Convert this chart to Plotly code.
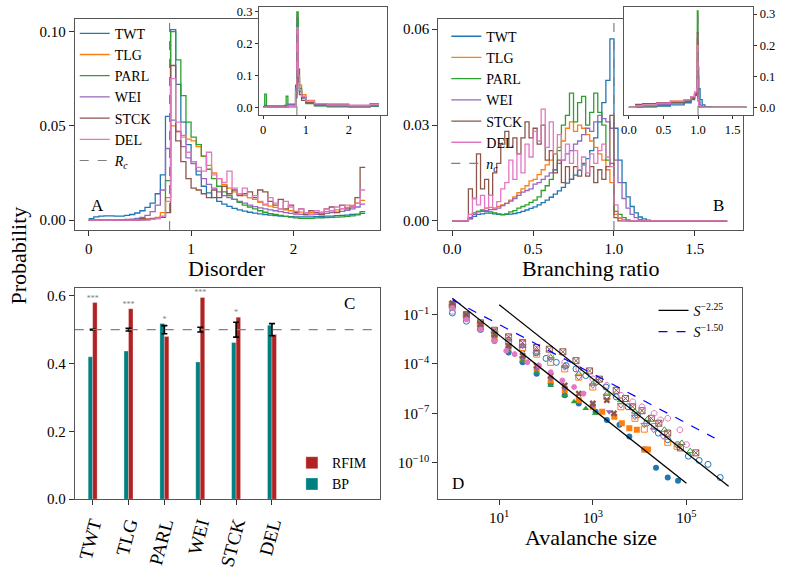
import numpy as np
import plotly.graph_objects as go

W, H = 785, 578
names = ["TWT", "TLG", "PARL", "WEI", "STCK", "DEL"]
colors = ["#1f77b4", "#ff7f0e", "#2ca02c", "#9467bd", "#8c564b", "#e377c2"]
FONT = "Liberation Serif"

# ---------------- Panel A: disorder histograms (bin width 0.05, 0 .. 2.7)
disorder_step = 0.05
disorder_twt = [0.0008, 0.0018, 0.0022, 0.0023, 0.0023, 0.0022, 0.0022, 0.0025, 0.003, 0.0038,
                0.005, 0.0068, 0.009, 0.014, 0.024, 0.055, 0.101, 0.072, 0.052, 0.040,
                0.031, 0.024, 0.018, 0.0145, 0.012, 0.010, 0.0085, 0.0073, 0.0063, 0.0055,
                0.0048, 0.0042, 0.0037, 0.0033, 0.003, 0.0027, 0.0024, 0.0022, 0.002, 0.0019,
                0.0018, 0.0018, 0.0018, 0.0018, 0.0019, 0.002, 0.0021, 0.0022, 0.0024, 0.0025,
                0.0027, 0.003, 0.0032, 0.0036]
disorder_tlg = [0, 0, 0, 0, 0, 0, 0, 0, 0, 0,
                0.0003, 0.0005, 0.0008, 0.0015, 0.004, 0.012, 0.050, 0.047, 0.045, 0.043,
                0.042, 0.039, 0.034, 0.029, 0.025, 0.022, 0.019, 0.017, 0.015, 0.014,
                0.013, 0.012, 0.011, 0.0095, 0.0085, 0.0075, 0.0068, 0.006, 0.0055, 0.005,
                0.0046, 0.0043, 0.004, 0.004, 0.004, 0.0042, 0.0045, 0.005, 0.0055, 0.006,
                0.0068, 0.0078, 0.009, 0.0105]
disorder_parl = [0, 0, 0, 0, 0, 0, 0, 0, 0, 0,
                 0, 0.0003, 0.0005, 0.001, 0.002, 0.021, 0.100, 0.085, 0.066, 0.052,
                 0.044, 0.040, 0.034, 0.027, 0.022, 0.018, 0.015, 0.013, 0.011, 0.0095,
                 0.008, 0.007, 0.006, 0.005, 0.0042, 0.0035, 0.003, 0.0025, 0.002, 0.0016,
                 0.0012, 0.001, 0.001, 0.001, 0.0012, 0.0013, 0.0014, 0.0015, 0.0016, 0.0018,
                 0.002, 0.0023, 0.0028, 0.0045]
disorder_wei = [0, 0, 0, 0, 0, 0, 0.0002, 0.0004, 0.0006, 0.001,
                0.0015, 0.0025, 0.0045, 0.008, 0.016, 0.038, 0.053, 0.047, 0.039, 0.033,
                0.030, 0.026, 0.022, 0.019, 0.017, 0.015, 0.013, 0.012, 0.011, 0.010,
                0.009, 0.008, 0.0072, 0.0065, 0.006, 0.0055, 0.005, 0.0045, 0.004, 0.0036,
                0.0033, 0.0031, 0.003, 0.003, 0.0031, 0.0033, 0.0036, 0.004, 0.0043, 0.0047,
                0.0052, 0.006, 0.007, 0.0085]
disorder_stck = [0, 0, 0, 0, 0, 0, 0, 0, 0, 0,
                 0.0008, 0.0005, 0.001, 0.0008, 0.0015, 0.004, 0.082, 0.042, 0.031, 0.022,
                 0.017, 0.016, 0.014, 0.012, 0.016, 0.012, 0.018, 0.014, 0.016, 0.013,
                 0.014, 0.015, 0.012, 0.016, 0.015, 0.010, 0.008, 0.011, 0.006, 0.008,
                 0.004, 0.006, 0.003, 0.005, 0.004, 0.003, 0.006, 0.007, 0.004, 0.008,
                 0.006, 0.007, 0.012, 0.028]
disorder_del = [0, 0, 0, 0, 0, 0, 0, 0, 0, 0,
                0, 0, 0.0005, 0.001, 0.002, 0.010, 0.075, 0.052, 0.044, 0.036,
                0.031, 0.028, 0.026, 0.036, 0.024, 0.022, 0.020, 0.026, 0.017, 0.014,
                0.017, 0.012, 0.013, 0.010, 0.008, 0.012, 0.009, 0.006, 0.010, 0.007,
                0.003, 0.006, 0.004, 0.003, 0.005, 0.004, 0.006, 0.005, 0.007, 0.006,
                0.008, 0.007, 0.009, 0.016]
R_c = 0.79

# inset A (non-uniform bins)
inset_a_edges = [0, 0.04, 0.08, 0.5, 0.54, 0.58, 0.76, 0.79, 0.82, 0.85, 0.9, 1.0, 1.2, 1.5, 2.0, 2.5, 2.7]
inset_a_twt = [0.003, 0.006, 0.005, 0.006, 0.006, 0.010, 0.07, 0.28, 0.10, 0.05, 0.03, 0.015, 0.006, 0.003, 0.002, 0.003]
inset_a_tlg = [0.0, 0.0, 0.001, 0.001, 0.001, 0.003, 0.04, 0.20, 0.12, 0.07, 0.04, 0.022, 0.012, 0.006, 0.005, 0.008]
inset_a_parl = [0.002, 0.042, 0.002, 0.001, 0.035, 0.003, 0.05, 0.30, 0.12, 0.06, 0.03, 0.012, 0.005, 0.002, 0.002, 0.004]
inset_a_wei = [0.001, 0.002, 0.002, 0.003, 0.004, 0.008, 0.06, 0.22, 0.09, 0.05, 0.03, 0.016, 0.009, 0.005, 0.004, 0.006]
inset_a_stck = [0.0, 0.0, 0.001, 0.001, 0.001, 0.002, 0.03, 0.24, 0.08, 0.04, 0.022, 0.015, 0.012, 0.010, 0.006, 0.012]
inset_a_del = [0.0, 0.0, 0.001, 0.001, 0.001, 0.003, 0.05, 0.25, 0.10, 0.055, 0.035, 0.020, 0.012, 0.008, 0.006, 0.010]

# ---------------- Panel B: branching ratio histograms (bin width 0.025, 0 .. 1.25, then zero to 1.7)
branch_step = 0.025
branch_max = 1.7
branch_twt = [0, 0, 0, 0, 0.0006, 0.0014, 0.002, 0.0022, 0.0024, 0.0024,
              0.0022, 0.002, 0.0019, 0.002, 0.0021, 0.0023, 0.0026, 0.003, 0.0034, 0.0039,
              0.0044, 0.005, 0.0057, 0.0065, 0.0074, 0.0084, 0.0094, 0.0105, 0.0118, 0.013,
              0.0143, 0.0158, 0.0175, 0.0195, 0.022, 0.026, 0.031, 0.037, 0.044, 0.057,
              0.029, 0.019, 0.012, 0.0075, 0.0045, 0.0025, 0.0012, 0.0006, 0.0002, 0]
branch_tlg = [0, 0, 0, 0, 0.0008, 0.002, 0.003, 0.0035, 0.004, 0.0042,
              0.004, 0.0045, 0.005, 0.0055, 0.0065, 0.0075, 0.0088, 0.010, 0.011, 0.0125,
              0.013, 0.0145, 0.016, 0.0175, 0.019, 0.021, 0.023, 0.025, 0.029, 0.031,
              0.028, 0.030, 0.029, 0.027, 0.025, 0.023, 0.021, 0.019, 0.016, 0.012,
              0.002, 0.0008, 0.0003, 0, 0, 0, 0, 0, 0, 0]
branch_parl = [0, 0, 0, 0, 0.001, 0.0025, 0.003, 0.0032, 0.003, 0.0028,
               0.0025, 0.0022, 0.002, 0.0022, 0.0028, 0.0032, 0.004, 0.0045, 0.005, 0.0058,
               0.0065, 0.0075, 0.0095, 0.011, 0.013, 0.016, 0.022, 0.030, 0.033, 0.040,
               0.031, 0.037, 0.039, 0.030, 0.034, 0.040, 0.034, 0.030, 0.019, 0.018,
               0.003, 0.002, 0.001, 0.0003, 0, 0, 0, 0, 0, 0]
branch_wei = [0, 0, 0, 0, 0.0008, 0.002, 0.0028, 0.003, 0.0032, 0.0035,
              0.0035, 0.004, 0.0048, 0.0055, 0.0062, 0.007, 0.008, 0.009, 0.0095, 0.010,
              0.0115, 0.012, 0.013, 0.014, 0.015, 0.016, 0.018, 0.019, 0.021, 0.022,
              0.024, 0.025, 0.027, 0.029, 0.028, 0.031, 0.033, 0.032, 0.031, 0.029,
              0.019, 0.012, 0.007, 0.004, 0.002, 0.001, 0.0004, 0, 0, 0]
branch_stck = [0, 0, 0, 0, 0.010, 0.007, 0.021, 0.010, 0.013, 0.008,
               0.015, 0.018, 0.024, 0.028, 0.023, 0.026, 0.021, 0.026, 0.031, 0.026,
               0.029, 0.024, 0.030, 0.019, 0.022, 0.015, 0.019, 0.012, 0.017, 0.013,
               0.017, 0.014, 0.018, 0.014, 0.017, 0.012, 0.016, 0.013, 0.017, 0.033,
               0.001, 0, 0, 0, 0, 0, 0, 0, 0, 0]
branch_del = [0, 0, 0, 0, 0.002, 0.007, 0.005, 0.008, 0.004, 0.008,
              0.004, 0.006, 0.010, 0.012, 0.019, 0.013, 0.021, 0.015, 0.024, 0.020,
              0.028, 0.025, 0.035, 0.023, 0.031, 0.021, 0.027, 0.019, 0.024, 0.018,
              0.022, 0.016, 0.020, 0.015, 0.021, 0.018, 0.022, 0.024, 0.020, 0.017,
              0.005, 0.001, 0, 0, 0, 0, 0, 0, 0, 0]
n_c = 1.0

inset_b_edges = [0, 0.1, 0.2, 0.4, 0.6, 0.8, 0.9, 0.95, 0.98, 0.99, 1.0, 1.01, 1.03, 1.06, 1.1, 1.2, 1.7]
inset_b_twt = [0, 0.001, 0.002, 0.004, 0.008, 0.015, 0.025, 0.04, 0.06, 0.10, 0.13, 0.06, 0.025, 0.008, 0.002, 0]
inset_b_tlg = [0, 0.004, 0.007, 0.012, 0.02, 0.025, 0.035, 0.045, 0.05, 0.22, 0.03, 0.005, 0.001, 0, 0, 0]
inset_b_parl = [0, 0.003, 0.003, 0.006, 0.015, 0.02, 0.03, 0.04, 0.06, 0.31, 0.10, 0.01, 0.002, 0, 0, 0]
inset_b_wei = [0, 0.003, 0.005, 0.01, 0.016, 0.025, 0.035, 0.045, 0.055, 0.15, 0.06, 0.02, 0.006, 0.002, 0, 0]
inset_b_stck = [0, 0.01, 0.012, 0.015, 0.015, 0.02, 0.03, 0.04, 0.05, 0.24, 0.02, 0.003, 0, 0, 0, 0]
inset_b_del = [0, 0.005, 0.008, 0.014, 0.02, 0.025, 0.035, 0.05, 0.06, 0.20, 0.04, 0.006, 0.001, 0, 0, 0]

# ---------------- Panel C: bars
bp_values = [0.420, 0.437, 0.518, 0.405, 0.462, 0.513]
rfim_values = [0.580, 0.562, 0.480, 0.595, 0.537, 0.486]
null_mean = [0.5, 0.5, 0.5, 0.5, 0.5, 0.5]
null_err = [0.001, 0.004, 0.012, 0.007, 0.022, 0.018]
significance = ["***", "***", "*", "***", "*", ""]

# ---------------- Panel D: avalanche size distributions (log10 S, log10 P)
aval_twt_filled = [(0, -0.5), (0.3, -1.2), (0.6, -1.9), (0.9, -2.6), (1.2, -3.3), (1.5, -3.9), (1.8, -4.6),
                   (2.1, -5.2), (2.4, -5.9), (2.7, -6.4), (3.06, -6.9), (3.3, -7.4), (3.57, -7.7),
                   (3.78, -8.4), (4.1, -9.2), (4.35, -10.3), (4.6, -10.9), (4.82, -11.1)]
aval_tlg_filled = [(0, -0.4), (0.3, -1.1), (0.6, -1.7), (0.9, -2.4), (1.2, -3.0), (1.5, -3.7), (1.8, -4.3),
                   (2.1, -5.0), (2.4, -5.6), (2.7, -6.2), (3.0, -6.6), (3.2, -6.9), (3.46, -7.2),
                   (3.62, -7.6), (3.78, -7.9), (3.94, -8.0), (4.1, -9.2), (4.18, -9.2)]
aval_parl_filled = [(0, -0.45), (0.3, -1.15), (0.6, -1.8), (0.9, -2.5), (1.2, -3.2), (1.5, -3.8), (1.8, -4.5),
                    (2.1, -5.3), (2.4, -5.9), (2.6, -6.3), (2.85, -6.7), (3.05, -7.0)]
aval_wei_filled = [(0, -0.35), (0.3, -1.05), (0.6, -1.7), (0.9, -2.35), (1.2, -3.0), (1.5, -3.6), (1.8, -4.3),
                   (2.1, -4.9), (2.4, -5.5), (2.79, -5.8), (3.0, -6.5), (3.35, -6.9)]
aval_stck_filled = [(0, -0.3), (0.3, -1.0), (0.6, -1.6), (0.9, -2.2), (1.2, -2.9), (1.5, -3.5), (1.8, -4.1),
                    (2.1, -4.7), (2.4, -5.3), (2.7, -5.8), (3.0, -6.4), (3.3, -6.2), (3.45, -7.0)]
aval_del_filled = [(0, -0.6), (0.3, -1.3), (0.6, -1.9), (0.9, -2.6), (1.15, -3.2), (1.33, -3.4), (1.6, -3.9),
                   (1.85, -4.1), (2.1, -4.5), (2.35, -5.0), (2.6, -5.4), (2.8, -5.8)]
aval_twt_open = [(0, -0.9), (0.3, -1.4), (0.6, -1.9), (0.9, -2.3), (1.2, -2.7), (1.5, -3.1), (1.79, -3.32),
                 (2.0, -3.66), (2.22, -3.9), (2.43, -4.1), (2.64, -4.3), (2.85, -4.7), (3.07, -5.1),
                 (3.28, -5.4), (3.5, -6.0), (3.75, -6.6), (3.95, -7.1), (4.15, -7.6), (4.4, -8.2),
                 (4.6, -8.6), (4.81, -8.9), (5.04, -9.6), (5.27, -9.86), (5.46, -10.1), (5.72, -10.9)]
aval_tlg_open = [(0, -0.5), (0.3, -1.1), (0.6, -1.6), (0.9, -2.1), (1.2, -2.6), (1.5, -3.0), (1.8, -3.4),
                 (2.1, -3.9), (2.4, -4.3), (2.7, -4.8), (3.0, -5.4), (3.3, -6.0), (3.6, -6.6), (3.9, -7.3),
                 (4.1, -7.96), (4.32, -7.8), (4.6, -8.76), (4.8, -9.0)]
aval_parl_open = [(0, -0.45), (0.3, -1.05), (0.6, -1.55), (0.9, -2.0), (1.2, -2.5), (1.5, -2.9), (1.8, -3.3),
                  (2.1, -3.6), (2.4, -4.1), (2.7, -4.6), (3.0, -5.2), (3.3, -5.8), (3.6, -6.2), (3.9, -6.9),
                  (4.17, -7.35), (4.53, -8.0), (4.9, -8.8), (5.08, -9.3)]
aval_wei_open = [(0, -0.5), (0.3, -1.1), (0.6, -1.6), (0.9, -2.1), (1.2, -2.5), (1.5, -2.9), (1.8, -3.3),
                 (2.1, -3.7), (2.4, -4.2), (2.7, -4.8), (3.0, -5.3), (3.3, -6.0), (3.6, -6.5), (3.9, -7.2),
                 (4.1, -7.7), (4.3, -8.0), (4.5, -8.4)]
aval_stck_open = [(0, -0.4), (0.3, -1.0), (0.6, -1.5), (0.9, -1.95), (1.2, -2.35), (1.5, -2.7), (1.8, -3.0),
                  (2.07, -3.1), (2.36, -3.26), (2.64, -3.8), (2.93, -4.42), (3.14, -4.92), (3.5, -5.6),
                  (3.7, -6.1), (3.85, -6.6), (4.05, -6.84), (4.25, -7.3), (4.41, -7.6), (4.6, -8.2),
                  (4.87, -9.1), (5.2, -9.4)]
aval_del_open = [(0, -0.8), (0.3, -1.2), (0.6, -1.6), (0.9, -2.0), (1.2, -2.4), (1.5, -2.75), (1.8, -3.1),
                 (2.1, -3.5), (2.4, -3.9), (2.7, -4.3), (3.0, -4.9), (3.3, -5.3), (3.6, -5.9), (3.85, -6.3),
                 (4.05, -6.6), (4.31, -7.0), (4.45, -7.4), (4.6, -7.3), (4.86, -8.0), (5.0, -8.9)]

# power-law guides: (exponent, log10 prefactor, log10 S start, log10 S end)
fit_steep_low = (-2.25, 0.0, 0.0, 5.0)
fit_steep_high = (-2.25, 1.85, 1.0, 5.9)
fit_shallow = (-1.50, -0.1, 0.0, 5.6)

# ---------------- figure
def px_x(p):
    return p / W

def px_y(p):
    return 1 - p / H

fig = go.Figure()

def step_trace(edges, vals, color, name, xa, ya, legend, showlegend):
    ys = list(vals) + [vals[-1]]
    return go.Scatter(x=list(edges), y=ys, mode="lines", line=dict(color=color, width=1.3, shape="hv"),
                      name=name, xaxis=xa, yaxis=ya, legend=legend, showlegend=showlegend,
                      hoverinfo="skip")

disorder_edges = np.round(np.arange(len(disorder_twt) + 1) * disorder_step, 4)
disorder_sets = [disorder_twt, disorder_tlg, disorder_parl, disorder_wei, disorder_stck, disorder_del]
for nm, col, vals in zip(names, colors, disorder_sets):
    fig.add_trace(step_trace(disorder_edges, vals, col, nm, "x", "y", "legend", True))

A_YR = [-0.0052, 0.1068]
fig.add_trace(go.Scatter(x=[R_c, R_c], y=A_YR, mode="lines", line=dict(color="#7f7f7f", width=1.2, dash="dash"),
                         name="<i>R<sub>c</sub></i>", xaxis="x", yaxis="y", legend="legend"))

branch_edges = list(np.round(np.arange(len(branch_twt) + 1) * branch_step, 4)) + [branch_max]
branch_sets = [branch_twt, branch_tlg, branch_parl, branch_wei, branch_stck, branch_del]
for nm, col, vals in zip(names, colors, branch_sets):
    fig.add_trace(step_trace(branch_edges, list(vals) + [0.0], col, nm, "x2", "y2", "legend2", True))
B_YR = [-0.00286, 0.0633]
fig.add_trace(go.Scatter(x=[n_c, n_c], y=B_YR, mode="lines", line=dict(color="#7f7f7f", width=1.2, dash="dash"),
                         name="<i>n<sub>c</sub></i>", xaxis="x2", yaxis="y2", legend="legend2"))

# Panel C
xc = np.arange(len(names))
bar_w = 0.125
fig.add_trace(go.Bar(x=xc, y=bp_values, width=bar_w, offset=-bar_w, marker=dict(color="#008080",
                     line=dict(color="rgba(255,255,255,0.5)", width=0.6)), name="BP",
                     xaxis="x3", yaxis="y3", legend="legend3", legendrank=2))
fig.add_trace(go.Bar(x=xc, y=rfim_values, width=bar_w, offset=0, marker=dict(color="#b22222",
                     line=dict(color="rgba(255,255,255,0.5)", width=0.6)), name="RFIM",
                     xaxis="x3", yaxis="y3", legend="legend3", legendrank=1))
fig.add_trace(go.Scatter(x=xc, y=null_mean, mode="markers", marker=dict(size=1, color="black"),
                         error_y=dict(type="data", array=null_err, color="black", thickness=1.6, width=3),
                         xaxis="x3", yaxis="y3", showlegend=False, hoverinfo="skip"))
star_y = [max(a, b) for a, b in zip(bp_values, rfim_values)]
fig.add_trace(go.Scatter(x=xc, y=star_y, mode="text", text=significance, textposition="top center",
                         textfont=dict(size=8, color="#808080"), xaxis="x3", yaxis="y3",
                         showlegend=False, hoverinfo="skip"))

# Panel D
filled_sets = [aval_twt_filled, aval_tlg_filled, aval_parl_filled, aval_wei_filled, aval_stck_filled, aval_del_filled]
open_sets = [aval_twt_open, aval_tlg_open, aval_parl_open, aval_wei_open, aval_stck_open, aval_del_open]
filled_sym = ["circle", "square", "triangle-up", "triangle-down", "x", "octagon"]
open_sym = ["circle-open", "square-open", "triangle-up-open", "triangle-down-open", "square-x-open", "octagon-open"]
for col, pts, sym in zip(colors, open_sets, open_sym):
    s = [10 ** a for a, b in pts]
    p = [10 ** b for a, b in pts]
    fig.add_trace(go.Scatter(x=s, y=p, mode="markers", marker=dict(symbol=sym, size=6, color=col, line=dict(width=1, color=col)),
                             xaxis="x4", yaxis="y4", showlegend=False, hoverinfo="skip"))
for col, pts, sym in zip(colors, filled_sets, filled_sym):
    s = [10 ** a for a, b in pts]
    p = [10 ** b for a, b in pts]
    fig.add_trace(go.Scatter(x=s, y=p, mode="markers", marker=dict(symbol=sym, size=6, color=col, line=dict(width=0)),
                             xaxis="x4", yaxis="y4", showlegend=False, hoverinfo="skip"))

def fit_line(params):
    expo, logc, s0, s1 = params
    s = [10 ** s0, 10 ** s1]
    return s, [10 ** (logc + expo * s0), 10 ** (logc + expo * s1)]

s, p = fit_line(fit_steep_low)
fig.add_trace(go.Scatter(x=s, y=p, mode="lines", line=dict(color="black", width=1.3),
                         name="<i>S</i><sup>−2.25</sup>", xaxis="x4", yaxis="y4", legend="legend4"))
s, p = fit_line(fit_steep_high)
fig.add_trace(go.Scatter(x=s, y=p, mode="lines", line=dict(color="black", width=1.3),
                         showlegend=False, xaxis="x4", yaxis="y4"))
s, p = fit_line(fit_shallow)
fig.add_trace(go.Scatter(x=s, y=p, mode="lines", line=dict(color="blue", width=1.2, dash="dash"),
                         name="<i>S</i><sup>−1.50</sup>", xaxis="x4", yaxis="y4", legend="legend4"))

# insets
for nm, col, vals in zip(names, colors, [inset_a_twt, inset_a_tlg, inset_a_parl, inset_a_wei, inset_a_stck, inset_a_del]):
    fig.add_trace(step_trace(inset_a_edges, vals, col, nm, "x5", "y5", "legend", False))
IA_YR = [-0.0238, 0.3154]
fig.add_trace(go.Scatter(x=[R_c, R_c], y=IA_YR, mode="lines", line=dict(color="#7f7f7f", width=1.1, dash="dash"),
                         xaxis="x5", yaxis="y5", showlegend=False))
for nm, col, vals in zip(names, colors, [inset_b_twt, inset_b_tlg, inset_b_parl, inset_b_wei, inset_b_stck, inset_b_del]):
    fig.add_trace(step_trace(inset_b_edges, vals, col, nm, "x6", "y6", "legend", False))
IB_YR = [-0.0243, 0.323]
fig.add_trace(go.Scatter(x=[n_c, n_c], y=IB_YR, mode="lines", line=dict(color="#7f7f7f", width=1.1, dash="dash"),
                         xaxis="x6", yaxis="y6", showlegend=False))

frame = dict(showline=True, mirror=True, linecolor="#555555", linewidth=1.1, showgrid=False, zeroline=False,
             ticks="outside", ticklen=5, tickwidth=1, tickcolor="#333333", tickfont=dict(size=15, family=FONT))
iframe = dict(frame, ticklen=3, tickfont=dict(size=12.5, family=FONT))
leg = dict(xanchor="left", yanchor="top", bgcolor="rgba(0,0,0,0)", font=dict(size=14, family=FONT),
           tracegroupgap=0, itemwidth=30)

fig.update_layout(
    width=W, height=H, autosize=False, margin=dict(l=0, r=0, t=0, b=0),
    paper_bgcolor="white", plot_bgcolor="white", font=dict(family=FONT, color="black"),
    barmode="overlay",
    xaxis=dict(frame, domain=[px_x(72), px_x(378)], range=[-0.136, 2.84], tickvals=[0, 1, 2], anchor="y"),
    yaxis=dict(frame, domain=[px_y(232), px_y(17)], range=A_YR, tickvals=[0, 0.05, 0.10],
               ticktext=["0.00", "0.05", "0.10"], anchor="x"),
    xaxis2=dict(frame, domain=[px_x(437), px_x(743)], range=[-0.086, 1.799], tickvals=[0, 0.5, 1.0, 1.5],
                ticktext=["0.0", "0.5", "1.0", "1.5"], anchor="y2"),
    yaxis2=dict(frame, domain=[px_y(232), px_y(17)], range=B_YR, tickvals=[0, 0.03, 0.06],
                ticktext=["0.00", "0.03", "0.06"], anchor="x2"),
    xaxis3=dict(frame, domain=[px_x(72), px_x(378)], range=[-0.5, 8.0], tickvals=list(xc), ticktext=names,
                tickangle=-75, tickfont=dict(size=19, family=FONT), anchor="y3"),
    yaxis3=dict(frame, domain=[px_y(506), px_y(291)], range=[0, 0.623], tickvals=[0, 0.2, 0.4, 0.6],
                ticktext=["0.0", "0.2", "0.4", "0.6"], anchor="x3"),
    xaxis4=dict(frame, domain=[px_x(437), px_x(742)], type="log", range=[-0.30, 6.19],
                tickvals=[10, 1000, 100000], ticktext=["10<sup>1</sup>", "10<sup>3</sup>", "10<sup>5</sup>"], anchor="y4"),
    yaxis4=dict(frame, domain=[px_y(506), px_y(291)], type="log", range=[-12.22, 0.62],
                tickvals=[1e-1, 1e-4, 1e-7, 1e-10],
                ticktext=["10<sup>−1</sup>", "10<sup>−4</sup>", "10<sup>−7</sup>", "10<sup>−10</sup>"], anchor="x4"),
    xaxis5=dict(iframe, domain=[px_x(257), px_x(385)], range=[-0.093, 2.88], tickvals=[0, 1, 2], anchor="y5"),
    yaxis5=dict(iframe, domain=[px_y(115), px_y(5)], range=IA_YR, tickvals=[0, 0.1, 0.2, 0.3],
                ticktext=["0.0", "0.1", "0.2", "0.3"], anchor="x5"),
    xaxis6=dict(iframe, domain=[px_x(623), px_x(753)], range=[-0.076, 1.797], tickvals=[0, 0.5, 1.0, 1.5],
                ticktext=["0.0", "0.5", "1.0", "1.5"], anchor="y6"),
    yaxis6=dict(iframe, domain=[px_y(115), px_y(5)], range=IB_YR, tickvals=[0, 0.1, 0.2, 0.3],
                ticktext=["0.0", "0.1", "0.2", "0.3"], side="right", anchor="x6"),
    legend=dict(leg, x=px_x(72), y=px_y(16)),
    legend2=dict(leg, x=px_x(445), y=px_y(19)),
    legend3=dict(leg, x=px_x(290), y=px_y(453)),
    legend4=dict(leg, x=px_x(653), y=px_y(298)),
    shapes=[dict(type="line", xref="x3 domain", yref="y3", x0=0, x1=1, y0=0.5, y1=0.5,
                 line=dict(color="#808080", width=1.2, dash="dash"))],
)

ann = [
    ("Disorder", 225, 271, 22, 0), ("Branching ratio", 590, 271, 22, 0), ("Avalanche size", 590, 545, 22, 0),
    ("Probability", 16, 258, 22, -90),
    ("A", 95, 207, 17, 0), ("B", 718, 207, 17, 0), ("C", 348, 307, 17, 0), ("D", 457, 490, 17, 0),
]
for txt, x, y, sz, ang in ann:
    fig.add_annotation(text=txt, x=px_x(x), y=px_y(y), xref="paper", yref="paper", showarrow=False,
                       xanchor="center", yanchor="middle", textangle=ang, font=dict(size=sz, family=FONT))

fig.write_html("out.html", config={"displayModeBar": False},
               post_script="document.body.style.margin='0';document.body.style.overflow='hidden';")
